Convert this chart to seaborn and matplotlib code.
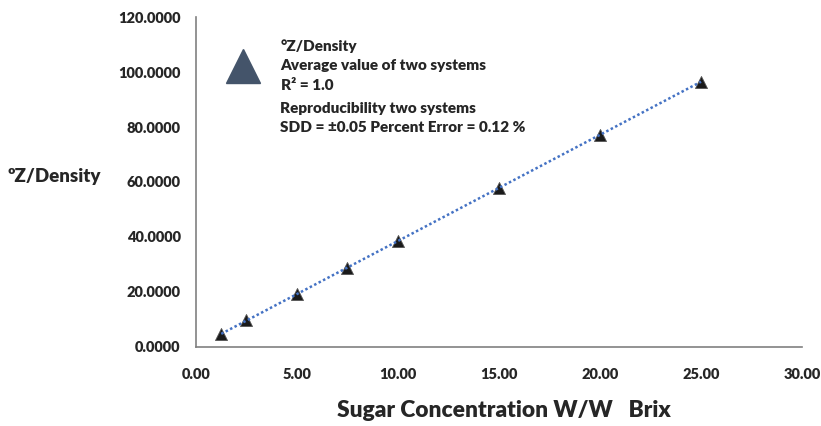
import numpy as np
import pandas as pd
import seaborn as sns
import matplotlib.pyplot as plt
from matplotlib.lines import Line2D
from matplotlib.ticker import MultipleLocator, FormatStrFormatter

# Brix vs Z/density, average of two systems
brix = [1.25, 2.5, 5.0, 7.5, 10.0, 15.0, 20.0, 25.0]
z_density = [4.7, 9.6, 19.2, 28.8, 38.4, 57.8, 77.2, 96.6]

df = pd.DataFrame({"brix": brix, "z": z_density})

W = "heavy"
sns.set_style("white")
plt.rcParams["font.family"] = ["Lato", "DejaVu Sans"]
plt.rcParams["font.weight"] = W

fig = plt.figure(figsize=(8.21, 4.26), dpi=100)
ax = fig.add_axes([0.2387, 0.1862, 0.7382, 0.7732])

sns.regplot(data=df, x="brix", y="z", ci=None, marker="^", ax=ax,
            scatter_kws={"s": 75, "color": "#1a1a1a", "edgecolors": "#555555",
                         "linewidths": 0.6, "alpha": 1, "zorder": 2},
            line_kws={"color": "#4472C4", "lw": 1.8, "ls": (0, (1, 1)), "zorder": 3})

ax.set_xlim(0, 30)
ax.set_ylim(0, 120)
ax.xaxis.set_major_locator(MultipleLocator(5))
ax.xaxis.set_minor_locator(MultipleLocator(1))
ax.yaxis.set_major_locator(MultipleLocator(20))
ax.yaxis.set_minor_locator(MultipleLocator(4))
ax.xaxis.set_major_formatter(FormatStrFormatter("%.2f"))
ax.yaxis.set_major_formatter(FormatStrFormatter("%.4f"))

for s in ["top", "right"]:
    ax.spines[s].set_visible(False)
for s in ["left", "bottom"]:
    ax.spines[s].set_color("#808080")
    ax.spines[s].set_linewidth(1.2)

ax.tick_params(which="major", direction="inout", length=10, width=1.2,
               color="#808080", labelsize=10.5, pad=6, labelcolor="#262626")
ax.tick_params(which="minor", direction="in", length=5, width=1,
               color="#808080")
ax.tick_params(axis="x", which="major", pad=10)

ax.set_xlabel("Sugar Concentration W/W   Brix", fontsize=16.4, fontweight=W,
              color="#262626", labelpad=14)
ax.xaxis.label.set_x(0.508)
ax.set_ylabel("")
fig.text(0.066, 0.585, "ºZ/Density", fontsize=13.5, fontweight=W,
         color="#262626", ha="center", va="center")

handle = Line2D([], [], ls="none", marker="^", markersize=24,
                color="#44546A", markeredgecolor="#44546A")
leg = ax.legend([handle], ["°Z/Density\nAverage value of two systems\nR² = 1.0"],
                loc="upper left", bbox_to_anchor=(0.2814, 0.9086),
                bbox_transform=fig.transFigure, frameon=False,
                prop={"size": 11, "weight": W}, handlelength=1.6,
                handletextpad=1.65, borderpad=0, borderaxespad=0)
for t in leg.get_texts():
    t.set_color("#262626")
    t.set_linespacing(1.6)

fig.text(0.341, 0.760, "Reproducibility two systems\nSDD = ±0.05 Percent Error = 0.12 %",
         fontsize=11, fontweight=W, color="#262626", va="top",
         linespacing=1.5)

fig.canvas.draw()
for lab in ax.get_xticklabels() + ax.get_yticklabels():
    lab.set_fontweight(W)

fig.savefig("out.png", dpi=100)
